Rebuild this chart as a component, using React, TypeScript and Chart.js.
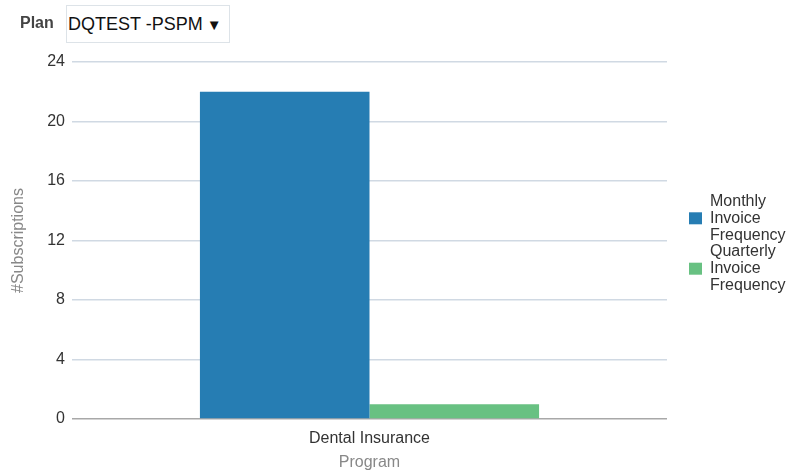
import React, { useEffect, useRef } from "react";
import { Chart, registerables } from "chart.js";

Chart.register(...registerables);

const categories = ["Dental Insurance"];
const seriesLabels = ["Monthly Invoice Frequency", "Quarterly Invoice Frequency"];
const monthlyValues = [22];
const quarterlyValues = [1];
const seriesColors = ["#267db3", "#68c182"];
const yTickValues = [0, 4, 8, 12, 16, 20, 24];

const FONT = "'Liberation Sans', Arial, sans-serif";

const sideLegend = {
  id: "sideLegend",
  afterDraw(chart: any) {
    const ctx = chart.ctx;
    const area = chart.chartArea;
    const x0 = area.right + 22;
    const lineH = 16.8;
    const ds = chart.data.datasets;
    const lines: { words: string[]; color: string }[] = ds.map((d: any) => ({
      words: String(d.label).split(" "),
      color: d.backgroundColor,
    }));
    const total = lines.reduce((s, l) => s + l.words.length, 0);
    let y = (area.top + area.bottom) / 2 + 3 - (total * lineH) / 2 + lineH / 2;
    ctx.save();
    ctx.font = `16px ${FONT}`;
    ctx.textBaseline = "middle";
    ctx.textAlign = "left";
    for (const item of lines) {
      const mid = y + ((item.words.length - 1) * lineH) / 2;
      ctx.fillStyle = item.color;
      ctx.fillRect(x0, mid - 6, 13, 12);
      ctx.fillStyle = "#333333";
      for (const w of item.words) {
        ctx.fillText(w, x0 + 21, y);
        y += lineH;
      }
    }
    ctx.restore();
  },
};

export default function App() {
  const ref = useRef<HTMLCanvasElement | null>(null);

  useEffect(() => {
    if (!ref.current) return;
    const chart = new Chart(ref.current, {
      type: "bar",
      data: {
        labels: categories,
        datasets: [
          {
            label: seriesLabels[0],
            data: monthlyValues,
            backgroundColor: seriesColors[0],
            categoryPercentage: 0.57,
            barPercentage: 1,
          },
          {
            label: seriesLabels[1],
            data: quarterlyValues,
            backgroundColor: seriesColors[1],
            categoryPercentage: 0.57,
            barPercentage: 1,
          },
        ],
      },
      options: {
        animation: false,
        responsive: false,
        maintainAspectRatio: false,
        layout: { padding: { top: 62, right: 123, left: 0, bottom: 0 } },
        plugins: {
          legend: { display: false },
          tooltip: { enabled: false },
        },
        scales: {
          x: {
            grid: { display: false },
            border: { display: false },
            ticks: {
              color: "#333333",
              font: { family: FONT, size: 16 },
              padding: 2,
            },
            title: {
              display: true,
              text: "Program",
              color: "#888888",
              font: { family: FONT, size: 16 },
              padding: { top: 7, bottom: 0 },
            },
            afterFit: (s: any) => {
              s.height = 53;
            },
          },
          y: {
            min: 0,
            max: 24,
            afterBuildTicks: (s: any) => {
              s.ticks = yTickValues.map((v) => ({ value: v }));
            },
            grid: {
              drawTicks: false,
              color: (c: any) => (c.tick && c.tick.value === 0 ? "#a8a8a8" : "#d0d9e3"),
              lineWidth: 1.5,
            },
            border: { display: false },
            ticks: {
              color: "#333333",
              font: { family: FONT, size: 16 },
              padding: 7,
            },
            title: {
              display: true,
              text: "#Subscriptions",
              color: "#888888",
              font: { family: FONT, size: 16 },
              padding: { top: 9, bottom: 0 },
            },
            afterFit: (s: any) => {
              s.width = 72;
            },
          },
        },
      },
      plugins: [sideLegend],
    });
    return () => chart.destroy();
  }, []);

  return (
    <div style={{ position: "absolute", left: 0, top: 0, width: 790, height: 472, background: "#fff" }}>
      <canvas ref={ref} width={790} height={472} style={{ position: "absolute", left: 0, top: 0 }} />
      <div
        style={{
          position: "absolute",
          left: 20,
          top: 14,
          fontFamily: FONT,
          fontWeight: "bold",
          fontSize: 16,
          color: "#444",
        }}
      >
        Plan
      </div>
      <div
        style={{
          position: "absolute",
          left: 66,
          top: 5,
          width: 164,
          height: 38,
          boxSizing: "border-box",
          border: "1px solid #dde3e8",
          background: "#fff",
          fontFamily: FONT,
          fontSize: 18,
          color: "#111",
          display: "flex",
          alignItems: "center",
          paddingLeft: 1,
          whiteSpace: "nowrap",
        }}
      >
        DQTEST -PSPM
        <span style={{ fontSize: 15, marginLeft: 4 }}>▼</span>
      </div>
    </div>
  );
}
